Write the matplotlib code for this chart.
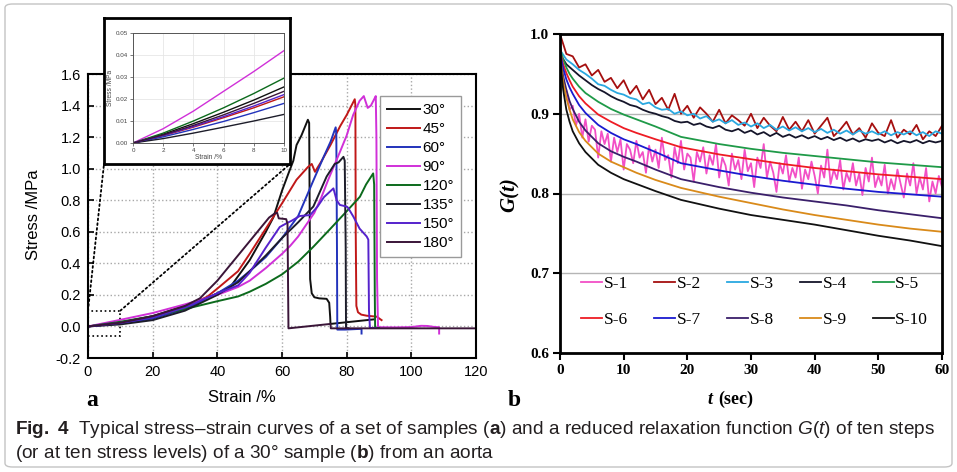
import numpy as np
import matplotlib.pyplot as plt
from matplotlib.patches import Rectangle, ConnectionPatch, FancyBboxPatch

plt.rcParams['font.family'] = ['Liberation Sans', 'DejaVu Sans']
plt.rcParams['mathtext.fontset'] = 'custom'
plt.rcParams['mathtext.rm'] = 'Liberation Sans'
plt.rcParams['mathtext.bf'] = 'Liberation Sans:bold'
plt.rcParams['mathtext.it'] = 'Liberation Sans:italic'

# ---------------- panel a: stress-strain curves ----------------
angle_labels = ['30°', '45°', '60°', '90°', '120°', '135°', '150°', '180°']
angle_colors = ['#111111', '#c01818', '#2233bb', '#d030d8',
                '#0c6a1c', '#1d1d2a', '#5522cc', '#3a1538']

strain_30 = [0, 10, 20, 30, 38, 44, 50, 55, 57.3, 60, 62, 63.5, 64.5, 66, 67.2, 68, 68.4,
             68.6, 68.7, 69.2, 70, 71.5, 73.8, 74.6, 74.9, 75, 88.5]
stress_30 = [0, 0.0255, 0.065, 0.13, 0.19, 0.25, 0.42, 0.6, 0.69, 0.86, 0.97, 1.05, 1.15, 1.21, 1.27, 1.31, 1.29,
             0.6, 0.3, 0.21, 0.185, 0.178, 0.175, 0.15, 0.06, 0.016, 0.045]

strain_45 = [0, 10, 20, 30, 37, 40, 46.4, 50, 55, 60, 64.5, 68, 69.2, 70.2, 72, 75, 78, 80, 82.5,
             82.7, 82.8, 83.0, 83.5, 84.5, 86.2, 89.3, 90.8]
stress_45 = [0, 0.021, 0.055, 0.12, 0.19, 0.24, 0.35, 0.46, 0.62, 0.78, 0.93, 1.01, 1.03, 0.98, 1.04, 1.15, 1.27, 1.34, 1.44,
             1.40, 0.6, 0.13, 0.09, 0.075, 0.068, 0.062, 0.04]

strain_60 = [0, 10, 20, 30, 40, 46.4, 50, 55, 60, 65, 69.7, 73, 75, 76.6, 76.8, 77.0, 77.1, 79.5, 84.6, 84.6]
stress_60 = [0, 0.018, 0.05, 0.11, 0.21, 0.29, 0.35, 0.44, 0.56, 0.7, 0.925, 1.08, 1.17, 1.262, 1.22, 0.5, -0.02, -0.02, -0.015, -0.045]

strain_90 = [0, 10, 20, 30, 40, 46.4, 50, 55, 60, 62.5, 65, 70, 72.2, 74.3, 78, 80, 82, 84, 85.3, 86.5,
             87.5, 88.5, 89.0, 89.2, 89.4, 89.7, 95, 100, 103, 105, 107, 108.6, 108.6]
stress_90 = [0, 0.042, 0.085, 0.14, 0.2, 0.25, 0.29, 0.37, 0.46, 0.51, 0.57, 0.72, 0.82, 0.93, 1.11, 1.21, 1.34, 1.43, 1.46, 1.385,
             1.40, 1.44, 1.46, 1.2, 0.3, -0.005, -0.006, -0.004, 0.004, 0.003, -0.003, -0.005, -0.045]

strain_120 = [0, 10, 20, 30, 40, 46.4, 50, 55, 60, 65, 69.7, 75, 80, 84.1, 86, 88.2, 88.5, 88.7, 88.8, 90]
stress_120 = [0, 0.0295, 0.065, 0.11, 0.16, 0.19, 0.22, 0.27, 0.33, 0.41, 0.505, 0.62, 0.73, 0.822, 0.9, 0.97, 0.9, 0.2, -0.01, -0.01]

strain_135 = [0, 10, 20, 30, 40, 46.4, 50, 55, 60, 65, 69.7, 73.8, 76.3, 77.5, 79, 79.4, 79.7, 79.8, 80.5]
stress_135 = [0, 0.013, 0.04, 0.1, 0.2, 0.28, 0.35, 0.45, 0.56, 0.66, 0.76, 0.95, 1.03, 1.04, 1.075, 1.05, 0.5, -0.01, -0.012]

strain_150 = [0, 10, 20, 30, 40, 46.4, 50, 55, 59.3, 61.5, 63, 65.5, 68.7, 71, 73, 75.9, 76.9, 77.9, 80,
              80.5, 82.1, 84, 86.2, 86.7, 86.9, 87.2, 89]
stress_150 = [0, 0.022, 0.058, 0.12, 0.21, 0.26, 0.34, 0.5, 0.63, 0.655, 0.67, 0.70, 0.706, 0.76, 0.82, 0.875, 0.80, 0.77, 0.76,
              0.75, 0.695, 0.62, 0.57, 0.55, 0.1, -0.01, -0.01]

strain_180 = [0, 10, 20, 30, 34.6, 40, 46.4, 50, 54, 56, 57.8, 58.5, 59, 61.3, 61.7, 62.0, 75.0, 75.1, 120]
stress_180 = [0, 0.0235, 0.065, 0.13, 0.178, 0.29, 0.45, 0.54, 0.64, 0.69, 0.717, 0.72, 0.685, 0.68, 0.65, -0.012, 0.016, -0.012, -0.012]

strains = [strain_30, strain_45, strain_60, strain_90, strain_120, strain_135, strain_150, strain_180]
stresses = [stress_30, stress_45, stress_60, stress_90, stress_120, stress_135, stress_150, stress_180]

# inset: first 10 % strain
inset_strain = [0, 2, 4, 6, 8, 10]
inset_stress = [
    [0, 0.004, 0.0088, 0.014, 0.0195, 0.0255],    # 30
    [0, 0.0033, 0.0072, 0.0115, 0.016, 0.021],    # 45
    [0, 0.0028, 0.0062, 0.0098, 0.0138, 0.018],   # 60
    [0, 0.0065, 0.0145, 0.0235, 0.0325, 0.042],   # 90
    [0, 0.0045, 0.01, 0.016, 0.0225, 0.0295],     # 120
    [0, 0.002, 0.0045, 0.0072, 0.01, 0.013],      # 135
    [0, 0.0035, 0.0075, 0.012, 0.0168, 0.022],    # 150
    [0, 0.0037, 0.008, 0.0128, 0.018, 0.0235],    # 180
]

# ---------------- panel b: relaxation G(t) ----------------
sample_labels = ['S-1', 'S-2', 'S-3', 'S-4', 'S-5', 'S-6', 'S-7', 'S-8', 'S-9', 'S-10']
sample_colors = ['#f24fc6', '#a50f0f', '#2aa8e0', '#15152a', '#1f9a48',
                 '#ee1c24', '#1a1ad0', '#3a1f6a', '#d98a1a', '#111111']

t_half = np.arange(0, 60.01, 0.5)
t_one = np.arange(0, 61, 1)
t_smooth = [0, 0.25, 0.5, 1, 1.5, 2, 3, 4, 6, 8, 10, 12, 15, 19, 25, 30, 35, 40, 45, 50, 55, 60]

g_s1 = [0.975, 0.935, 0.93, 0.905, 0.91, 0.885, 0.9, 0.87, 0.893, 0.865,
        0.885, 0.88, 0.845, 0.878, 0.862, 0.875, 0.84, 0.87, 0.852, 0.868,
        0.83, 0.862, 0.855, 0.838, 0.866, 0.845, 0.852, 0.826, 0.86, 0.84,
        0.855, 0.832, 0.87, 0.842, 0.848, 0.82, 0.858, 0.838, 0.866, 0.83,
        0.85, 0.845, 0.815, 0.852, 0.84, 0.858, 0.825, 0.848, 0.836, 0.862,
        0.82, 0.845, 0.835, 0.81, 0.85, 0.83, 0.842, 0.818, 0.855, 0.828,
        0.838, 0.808, 0.845, 0.832, 0.862, 0.82, 0.84, 0.826, 0.802, 0.838,
        0.825, 0.848, 0.815, 0.832, 0.82, 0.845, 0.806, 0.83, 0.818, 0.84,
        0.822, 0.8, 0.835, 0.82, 0.855, 0.812, 0.83, 0.818, 0.842, 0.805,
        0.826, 0.815, 0.838, 0.81, 0.825, 0.798, 0.832, 0.815, 0.845, 0.808,
        0.822, 0.81, 0.836, 0.8, 0.818, 0.805, 0.83, 0.812, 0.795, 0.825,
        0.81, 0.838, 0.8, 0.82, 0.805, 0.832, 0.79, 0.815, 0.8, 0.822,
        0.808]
g_s2 = [1.0, 0.975, 0.972, 0.958, 0.962, 0.948, 0.955, 0.94, 0.945, 0.932,
        0.942, 0.925, 0.935, 0.918, 0.93, 0.912, 0.92, 0.905, 0.925, 0.9,
        0.91, 0.895, 0.908, 0.9, 0.89, 0.905, 0.888, 0.898, 0.892, 0.885,
        0.9, 0.882, 0.895, 0.885, 0.878, 0.896, 0.88, 0.89, 0.878, 0.892,
        0.875, 0.885, 0.895, 0.872, 0.88, 0.89, 0.874, 0.882, 0.87, 0.888,
        0.876, 0.872, 0.892, 0.87, 0.88, 0.874, 0.886, 0.868, 0.878, 0.872,
        0.885]
g_s3 = [0.98, 0.968, 0.962, 0.955, 0.95, 0.944, 0.937, 0.935, 0.93, 0.926,
        0.924, 0.92, 0.918, 0.912, 0.914, 0.908, 0.905, 0.906, 0.9, 0.903,
        0.898, 0.9, 0.894, 0.897, 0.89, 0.893, 0.888, 0.892, 0.886, 0.889,
        0.884, 0.888, 0.882, 0.886, 0.88, 0.884, 0.879, 0.883, 0.878, 0.882,
        0.877, 0.881, 0.876, 0.88, 0.875, 0.879, 0.874, 0.879, 0.875, 0.878,
        0.874, 0.878, 0.873, 0.877, 0.874, 0.878, 0.873, 0.877, 0.872, 0.878,
        0.875]
g_s4 = [0.975, 0.962, 0.955, 0.948, 0.942, 0.936, 0.931, 0.927, 0.922, 0.918,
        0.915, 0.911, 0.909, 0.905, 0.902, 0.9, 0.897, 0.895, 0.891, 0.889,
        0.89, 0.886, 0.888, 0.884, 0.882, 0.885, 0.88, 0.878, 0.881, 0.876,
        0.879, 0.874, 0.877, 0.872, 0.876, 0.871, 0.874, 0.87, 0.873, 0.869,
        0.872, 0.868, 0.871, 0.867, 0.87, 0.866, 0.869, 0.865, 0.868, 0.866,
        0.868, 0.864, 0.867, 0.863, 0.866, 0.864, 0.867, 0.863, 0.866, 0.864,
        0.866]
g_s5 = [0.985, 0.975, 0.968, 0.958, 0.95, 0.944, 0.934, 0.926, 0.915, 0.906, 0.899,
        0.893, 0.884, 0.871, 0.862, 0.856, 0.851, 0.847, 0.843, 0.839, 0.836, 0.833]
g_s6 = [0.982, 0.97, 0.962, 0.951, 0.942, 0.934, 0.922, 0.913, 0.899, 0.89, 0.882,
        0.876, 0.868, 0.858, 0.849, 0.843, 0.837, 0.832, 0.828, 0.824, 0.821, 0.818]
g_s7 = [0.98, 0.967, 0.957, 0.943, 0.933, 0.925, 0.911, 0.901, 0.886, 0.876, 0.868,
        0.862, 0.852, 0.838, 0.829, 0.822, 0.816, 0.811, 0.806, 0.802, 0.799, 0.796]
g_s8 = [0.978, 0.96, 0.947, 0.93, 0.916, 0.906, 0.89, 0.879, 0.863, 0.853, 0.846,
        0.84, 0.83, 0.818, 0.808, 0.801, 0.795, 0.79, 0.785, 0.779, 0.774, 0.769]
g_s9 = [0.975, 0.955, 0.94, 0.92, 0.905, 0.893, 0.877, 0.866, 0.85, 0.84, 0.833,
        0.826, 0.817, 0.807, 0.796, 0.788, 0.78, 0.773, 0.767, 0.761, 0.756, 0.752]
g_s10 = [0.975, 0.95, 0.93, 0.905, 0.89, 0.878, 0.863, 0.852, 0.836, 0.826, 0.818,
         0.812, 0.803, 0.792, 0.781, 0.773, 0.767, 0.761, 0.754, 0.747, 0.741, 0.734]

times = [t_half, t_one, t_one, t_one, t_smooth, t_smooth, t_smooth, t_smooth, t_smooth, t_smooth]
gvals = [g_s1, g_s2, g_s3, g_s4, g_s5, g_s6, g_s7, g_s8, g_s9, g_s10]

W, H = 957, 472


def rect(l, t, r, b):
    return [l / W, 1 - b / H, (r - l) / W, (b - t) / H]


fig = plt.figure(figsize=(W / 100, H / 100), dpi=100)

# outer rounded border
fig.add_artist(FancyBboxPatch((5 / W, 5 / H), 947 / W, 463 / H,
                              boxstyle='round,pad=0,rounding_size=0.008',
                              transform=fig.transFigure, fill=False,
                              ec='#c4c4c4', lw=1.0))

# ---- panel a
ax = fig.add_axes(rect(88, 74, 476, 358))
for lab, c, x, y in zip(angle_labels, angle_colors, strains, stresses):
    ax.plot(x, y, color=c, lw=1.4, label=lab)
ax.set_xlim(0, 120)
ax.set_ylim(-0.2, 1.6)
ax.set_xticks(np.arange(0, 121, 20))
yt = np.round(np.arange(-0.2, 1.61, 0.2), 1)
ax.set_yticks(yt)
ax.set_yticklabels([f'{v:.1f}' for v in yt])
ax.grid(True, ls=':', color='#a8a8a8', lw=1.0)
ax.tick_params(direction='in', length=4, width=1.2, labelsize=10.5, pad=5)
for s in ax.spines.values():
    s.set_linewidth(1.5)
ax.add_patch(Rectangle((0, -0.06), 10, 0.16, fill=False, ls=':', lw=1.2, ec='black'))
leg = ax.legend(loc='upper right', bbox_to_anchor=((461 - 88) / 388, (358 - 96) / 284),
                borderaxespad=0, fontsize=11, fancybox=False, edgecolor='#9a9a9a',
                framealpha=1, handlelength=2.2, handletextpad=0.15, labelspacing=0.33,
                borderpad=0.45)
leg.get_frame().set_linewidth(1.0)

fig.text(242 / W, 1 - 398 / H, 'Strain /%', fontsize=12, ha='center', va='center')
fig.text(33 / W, 1 - 215 / H, 'Stress /MPa', fontsize=12, ha='center', va='center', rotation=90)
fig.text(92 / W, 1 - 401 / H, 'a', fontsize=17, fontweight='bold', family='Liberation Serif',
         ha='center', va='center')

# inset box
axbox = fig.add_axes(rect(104, 18, 290, 164))
axbox.set_xticks([])
axbox.set_yticks([])
for s in axbox.spines.values():
    s.set_linewidth(2.0)
    s.set_color('black')

axin = fig.add_axes(rect(133, 33, 284, 143))
for c, y in zip(angle_colors, inset_stress):
    axin.plot(inset_strain, y, color=c, lw=1.0)
axin.set_xlim(0, 10)
axin.set_ylim(0, 0.05)
axin.set_xticks(np.arange(0, 11, 2))
axin.set_yticks(np.round(np.arange(0, 0.051, 0.01), 2))
axin.set_yticklabels([f'{v:.2f}' for v in np.arange(0, 0.051, 0.01)])
axin.tick_params(labelsize=4.5, length=2, width=0.5, pad=1.5, colors='#444444')
axin.grid(True, color='#e6e6e6', lw=0.6)
for s in axin.spines.values():
    s.set_linewidth(0.7)
    s.set_color('#555555')
axin.set_xlabel('Strain /%', fontsize=4.8, labelpad=1, color='#444444')
axin.set_ylabel('Stress /MPa', fontsize=4.8, labelpad=1, color='#444444')

for xa, xb in [((0, 0.1), (0, 0)), ((10, 0.1), (1, 0))]:
    con = ConnectionPatch(xyA=xa, coordsA=ax.transData, xyB=xb, coordsB=axbox.transAxes,
                          ls=':', lw=1.3, color='black')
    fig.add_artist(con)

# ---- panel b
axb = fig.add_axes(rect(560, 34, 942, 353))
lines = []
for lab, c, t, g in zip(sample_labels, sample_colors, times, gvals):
    ln, = axb.plot(t, g, color=c, lw=1.3, label=lab)
    lines.append(ln)
axb.set_xlim(0, 60)
axb.set_ylim(0.6, 1.0)
axb.set_xticks(np.arange(0, 61, 10))
gt = np.round(np.arange(0.6, 1.01, 0.1), 1)
axb.set_yticks(gt)
axb.set_yticklabels([f'{v:.1f}' for v in gt])
axb.yaxis.grid(True, color='#b5b5b5', lw=1.0)
axb.set_axisbelow(True)
axb.tick_params(direction='out', length=5, width=1.5, labelsize=11, pad=3)
for lbl in axb.get_xticklabels() + axb.get_yticklabels():
    lbl.set_fontfamily('Liberation Serif')
    lbl.set_fontweight('bold')
for s in axb.spines.values():
    s.set_linewidth(2.0)

order = [0, 5, 1, 6, 2, 7, 3, 8, 4, 9]
axb.legend([lines[i] for i in order], [sample_labels[i] for i in order],
           loc='center', bbox_to_anchor=(0.51, 0.16), ncol=5, frameon=False,
           prop={'family': 'Liberation Serif', 'size': 12.5},
           handlelength=1.2, handletextpad=0.1, columnspacing=1.5, labelspacing=1.1)

fig.text(510 / W, 1 - 195 / H, 'G(t)', fontsize=15, fontweight='bold', fontstyle='italic',
         family='Liberation Serif', rotation=90, ha='center', va='center')
fig.text(718 / W, 1 - 399 / H, 't ', fontsize=13, fontweight='bold', fontstyle='italic',
         family='Liberation Serif', ha='right', va='center')
fig.text(718 / W, 1 - 399 / H, '(sec)', fontsize=13, fontweight='bold',
         family='Liberation Serif', ha='left', va='center')
fig.text(514 / W, 1 - 401 / H, 'b', fontsize=17, fontweight='bold', family='Liberation Serif',
         ha='center', va='center')

# ---- caption
cap1 = (r'$\mathbf{Fig.\ 4}$  Typical stress–strain curves of a set of samples ($\mathbf{a}$) '
        r'and a reduced relaxation function $\mathit{G}$($\mathit{t}$) of ten steps')
cap2 = r'(or at ten stress levels) of a 30° sample ($\mathbf{b}$) from an aorta'
fig.text(15 / W, 1 - 430 / H, cap1, fontsize=13.7, color='#231f20', ha='left', va='center')
fig.text(15 / W, 1 - 453 / H, cap2, fontsize=13.7, color='#231f20', ha='left', va='center')

fig.savefig('out.png', dpi=100)
